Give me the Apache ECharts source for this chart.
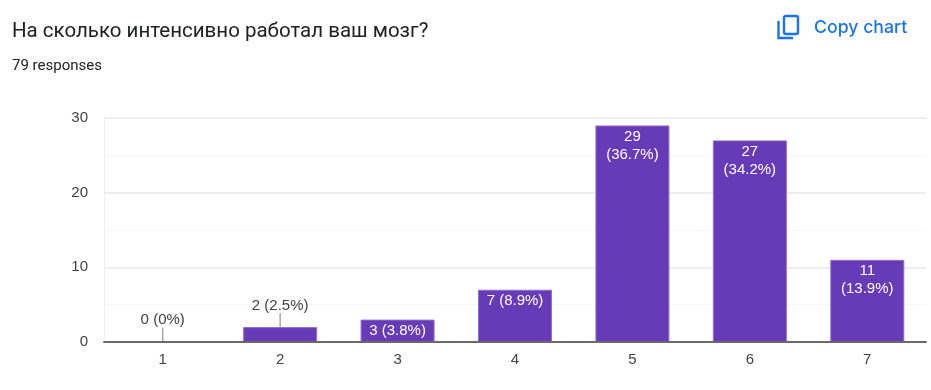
<!DOCTYPE html>
<html>
<head>
<meta charset="utf-8">
<title>Chart</title>
<script src="https://cdn.jsdelivr.net/npm/echarts@6/dist/echarts.min.js"></script>
<style>
  html, body { margin: 0; padding: 0; background: #fff; }
  #chart { width: 931px; height: 390px; }
</style>
</head>
<body>
<div id="chart"></div>
<script>
var categories = ['1', '2', '3', '4', '5', '6', '7'];
var counts = [0, 2, 3, 7, 29, 27, 11];
var percents = ['0%', '2.5%', '3.8%', '8.9%', '36.7%', '34.2%', '13.9%'];
var yTicks = { min: 0, max: 30, step: 10 };

var chartFont = '"Liberation Sans", Arial, sans-serif';
var myChart = echarts.init(document.getElementById('chart'));

// small bars carry the label above with a stem, tall ones wrap it in two lines
function labelFor(i) {
  var n = counts[i];
  if (n < 3) {
    return {
      value: n,
      label: { position: 'top', color: '#424242', formatter: n + ' (' + percents[i] + ')' }
    };
  }
  if (n < 10) {
    return {
      value: n,
      label: { position: 'insideTop', distance: 4, color: '#fff', formatter: n + ' (' + percents[i] + ')' }
    };
  }
  return {
    value: n,
    label: { position: 'insideTop', distance: 2, color: '#fff', lineHeight: 18, formatter: n + '\n(' + percents[i] + ')' }
  };
}

var option = {
  animation: false,
  textStyle: { fontFamily: chartFont },
  title: [
    {
      text: 'На сколько интенсивно работал ваш мозг?',
      left: 7, top: 16,
      textStyle: { fontFamily: 'Roboto, sans-serif', fontSize: 20.5, fontWeight: 400, color: '#202124' }
    },
    {
      text: '79 responses',
      left: 7, top: 54,
      textStyle: { fontFamily: 'Roboto, sans-serif', fontSize: 15, fontWeight: 400, color: '#202124' }
    }
  ],
  grid: { left: 104, right: 5, top: 118, bottom: 48 },
  xAxis: {
    type: 'category',
    data: categories,
    z: 3,
    axisTick: { show: false },
    axisLine: { lineStyle: { color: '#6a6a6a', width: 2 } },
    axisLabel: { color: '#424242', fontSize: 15, margin: 10 }
  },
  yAxis: {
    type: 'value',
    min: yTicks.min,
    max: yTicks.max,
    interval: yTicks.step,
    axisLine: { show: true, lineStyle: { color: '#efefef', width: 1 } },
    axisTick: { show: false },
    axisLabel: { color: '#424242', fontSize: 15, margin: 16, padding: [3, 0, 0, 0] },
    splitLine: { lineStyle: { color: '#eeeeee', width: 2 } },
    minorTick: { show: false, splitNumber: 2 },
    minorSplitLine: { show: true, lineStyle: { color: '#f6f6f6', width: 1 } }
  },
  series: [
    {
      type: 'bar',
      barWidth: 74,
      data: counts.map(function (n, i) { return labelFor(i); }),
      itemStyle: { color: '#673ab7', borderColor: '#8f6fcf', borderWidth: 1 },
      label: { show: true, fontSize: 15, fontFamily: chartFont },
      labelLine: { show: true, lineStyle: { color: '#a8a8a8', width: 1.5 } },
      labelLayout: function (params) {
        return counts[params.dataIndex] < 3 ? { dy: -9 } : {};
      }
    }
  ],
  graphic: [
    // copy icon
    {
      type: 'rect', silent: true,
      shape: { x: 784, y: 16, width: 14, height: 18, r: 2 },
      style: { fill: 'none', stroke: '#1a73e8', lineWidth: 2.4 }
    },
    {
      type: 'polyline', silent: true,
      shape: { points: [[778.5, 21], [778.5, 38], [793, 38]] },
      style: { fill: 'none', stroke: '#1a73e8', lineWidth: 2.4 }
    },
    {
      type: 'text', silent: true,
      left: 814, top: 19,
      style: { text: 'Copy chart', fill: '#1a73e8', font: '500 17.7px Inter, Roboto, sans-serif' }
    }
  ]
};

myChart.setOption(option);

window.addEventListener('resize', function () {
  myChart.resize();
});
</script>
</body>
</html>
